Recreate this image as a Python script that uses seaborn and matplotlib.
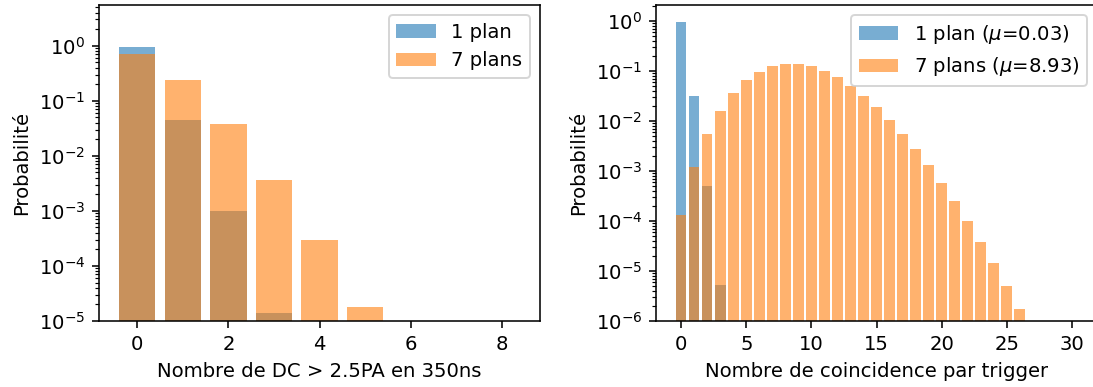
"""Dark count / coincidence probability, 1 vs 7 planes (log scale bars)."""
import numpy as np
import pandas as pd
import matplotlib
matplotlib.use("Agg")
import matplotlib.pyplot as plt
import seaborn as sns

# left panel: number of DC > 2.5PA in 350ns
dc_counts = list(range(9))
dc_1plan = [0.946, 0.0443, 0.00098, 1.4e-5, 0, 0, 0, 0, 0]
dc_7plans = [0.72, 0.237, 0.0375, 0.0037, 3.0e-4, 1.8e-5, 0, 0, 0]

# right panel: coincidences per trigger
co_counts = list(range(31))
co_1plan = [0.969, 0.0316, 5.0e-4, 5.2e-6] + [0] * 27
co_7plans = [1.32e-4, 1.2e-3, 5.5e-3, 0.0158, 0.0363, 0.066, 0.0955, 0.126,
             0.138, 0.138, 0.126, 0.100, 0.076, 0.050, 0.0316, 0.019, 0.0105,
             0.0055, 0.00275, 0.00132, 5.75e-4, 2.5e-4, 1.0e-4, 3.8e-5,
             1.45e-5, 5.0e-6, 1.74e-6, 0, 0, 0, 0]
mu_1plan, mu_7plans = 0.03, 8.93

DPI = 141
fig = plt.figure(figsize=(1093 / DPI, 387 / DPI), dpi=DPI)
ax1 = fig.add_axes([99 / 1093, 1 - 321 / 387, 441 / 1093, 316 / 387])
ax2 = fig.add_axes([656 / 1093, 1 - 321 / 387, 441 / 1093, 316 / 387])

blue, orange = "#1f77b4", "#ff7f0e"


def panel(ax, x, one, seven, labels, ylim, xlabel):
    df = pd.DataFrame({"x": x, "one": one, "seven": seven})
    sns.barplot(data=df, x="x", y="one", native_scale=True, color=blue,
                saturation=1, alpha=0.6, linewidth=0, label=labels[0], ax=ax)
    sns.barplot(data=df, x="x", y="seven", native_scale=True, color=orange,
                saturation=1, alpha=0.6, linewidth=0, label=labels[1], ax=ax)
    ax.set_yscale("log")
    ax.set_ylim(*ylim)
    span = max(x) - min(x) + 0.8
    ax.set_xlim(min(x) - 0.4 - 0.05 * span, max(x) + 0.4 + 0.05 * span)
    ax.set_xlabel(xlabel)
    ax.set_ylabel("Probabilité")
    ax.legend(loc="upper right")


panel(ax1, dc_counts, dc_1plan, dc_7plans, ["1 plan", "7 plans"],
      (1e-5, 5.5), "Nombre de DC > 2.5PA en 350ns")
panel(ax2, co_counts, co_1plan, co_7plans,
      [rf"1 plan ($\mu$={mu_1plan:.2f})", rf"7 plans ($\mu$={mu_7plans:.2f})"],
      (1e-6, 2.1), "Nombre de coincidence par trigger")
ax1.set_xticks([0, 2, 4, 6, 8])
ax2.set_xticks([0, 5, 10, 15, 20, 25, 30])

fig.savefig("out.png", dpi=DPI, facecolor="white")
